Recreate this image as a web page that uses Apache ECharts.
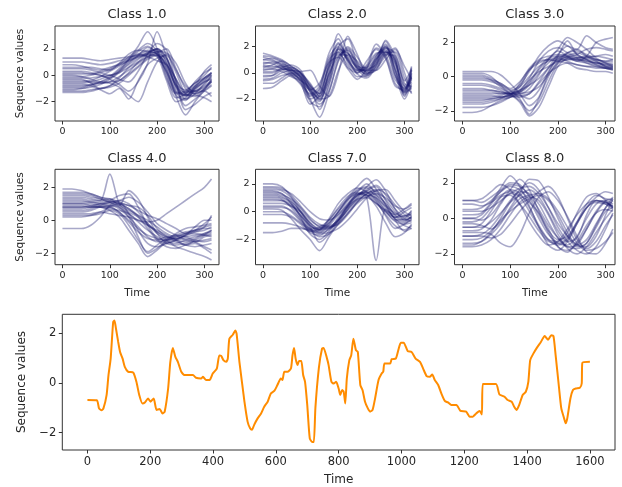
<!DOCTYPE html>
<html><head><meta charset="utf-8">
<script src="https://cdn.jsdelivr.net/npm/echarts@6/dist/echarts.min.js"></script>
<style>html,body{margin:0;padding:0;background:#fff}#c{width:622px;height:487px}</style>
</head><body><div id="c"></div>
<script>
// ---- data ----
const T = [0,20,40,60,80,100,120,140,160,180,200,220,240,260,280,300,315];
const classNames = ['Class 1.0','Class 2.0','Class 3.0','Class 4.0','Class 7.0','Class 8.0'];
const smallXTicks = [0,100,200,300];
const smallYTicks = [-2,0,2];
const bigXTicks = [0,200,400,600,800,1000,1200,1400,1600];
const bigYTicks = [-2,0,2];

const class1 = [
[-0.5,-0.5,-0.5,-0.4,-0.1,0.3,0.7,1.1,1.5,1.8,1.6,0.2,-1.3,-1.2,-0.6,-0.2,0.1],
[0.2,0.2,0.2,0.1,0.3,0.5,0.9,1.2,1.6,1.9,1.9,0.9,-1.0,-1.6,-0.9,-0.3,0.0],
[-1.0,-1.0,-1.0,-0.9,-0.7,-0.3,0.2,0.8,1.3,1.6,1.8,0.5,-1.5,-1.9,-1.0,-0.5,-0.3],
[1.3,1.3,1.3,1.2,1.1,1.2,1.3,1.4,1.5,1.6,1.4,0.3,-1.2,-1.5,-1.0,-0.4,0.2],
[-0.3,-0.3,-0.3,-0.6,-1.0,-0.8,-0.2,0.6,1.2,1.7,2.0,1.3,-0.4,-1.8,-1.4,-0.6,-0.2],
[0.5,0.5,0.5,0.4,0.2,0.0,0.3,0.9,1.5,2.1,1.7,0.0,-1.7,-1.4,-0.5,0.2,0.5],
[-1.3,-1.3,-1.3,-1.2,-1.0,-0.8,-0.4,0.1,0.7,1.3,1.6,1.2,-0.6,-2.3,-1.8,-1.2,-0.8],
[0.0,0.0,-0.1,-0.3,-0.5,-0.2,0.4,1.0,1.4,1.5,1.5,0.8,-0.8,-1.3,-1.2,-0.7,0.0],
[-0.7,-0.7,-0.7,-0.8,-1.1,-1.4,-1.0,-1.8,-0.4,0.8,1.3,1.5,0.2,-1.4,-1.6,-1.0,-0.5],
[0.8,0.8,0.7,0.5,0.4,0.6,0.8,1.1,1.4,1.7,2.0,1.0,-0.7,-1.1,-0.6,0.0,0.6],
[-0.2,-0.2,-0.2,-0.2,-0.1,0.0,-0.3,-0.5,0.3,1.6,2.4,1.9,-0.5,-2.6,-2.2,-1.6,-1.3],
[-1.1,-1.1,-1.0,-0.8,-0.5,-0.1,0.5,1.2,1.8,2.2,1.5,-0.4,-2.0,-1.7,-0.9,-0.2,0.2],
[0.3,0.3,0.3,0.2,0.0,-0.3,-0.7,-1.2,-0.5,0.9,3.3,1.4,-0.3,-1.2,-1.2,-0.8,-0.4],
[-0.6,-0.6,-0.6,-0.5,-0.3,0.0,0.2,0.6,1.0,1.4,1.7,2.0,0.5,-1.0,-1.4,-1.1,-0.7],
[0.6,0.6,0.6,0.6,0.5,0.4,0.9,1.6,1.9,1.8,1.6,0.6,-1.3,-1.8,-1.1,-0.5,-0.1],
[-0.9,-0.9,-0.9,-0.7,-0.5,-0.6,-0.9,-1.5,-2.0,-0.5,1.0,1.6,0.4,-0.8,-1.2,-0.9,-0.5],
[-0.1,-0.1,-0.1,0.0,0.2,0.4,0.8,1.4,1.9,2.4,1.8,0.3,-1.6,-3.0,-2.0,-1.1,-0.4],
[1.0,1.0,1.0,0.9,0.8,0.9,1.1,1.3,1.6,1.4,1.1,0.8,-0.3,-1.4,-0.8,0.3,0.8],
[-0.4,-0.4,-0.4,-0.5,-0.6,-0.5,-0.4,0.2,1.0,1.6,2.0,1.3,-0.9,-1.5,-1.3,-1.2,-1.6],
[-1.2,-1.2,-1.2,-1.1,-1.0,-0.9,-0.6,0.0,0.6,1.2,1.5,0.8,-0.8,-1.5,-1.5,-1.7,-2.0],
[0.1,0.1,0.1,0.1,0.0,-0.2,0.3,1.2,2.2,3.3,2.0,-0.2,-1.4,-1.3,-0.8,-0.2,0.2],
[-0.8,-0.8,-0.8,-0.7,-0.6,-0.5,-0.1,0.4,0.9,1.4,1.8,1.7,0.9,-0.6,-1.4,-1.0,-0.3]
];
const class2 = [
[0.5,0.4,0.6,0.1,-0.6,-1.8,-1.3,1.0,1.6,0.4,0.0,0.9,1.8,1.1,-1.0,-1.3,0.0],
[1.0,1.1,0.8,0.2,-0.3,-1.2,-2.0,-0.5,1.8,1.0,0.2,0.2,1.3,2.0,0.2,-1.6,-0.5],
[0.0,0.0,0.3,0.2,-0.2,-1.0,-1.6,0.8,2.3,1.2,0.4,0.1,0.8,1.9,1.5,-0.8,-1.0],
[-0.8,-0.8,-0.4,0.0,-0.1,-1.4,-2.4,-1.4,0.9,1.9,0.8,0.0,0.5,1.6,1.1,-1.0,-1.5],
[1.5,1.3,1.0,0.5,0.0,-0.8,-1.8,0.0,1.8,1.5,0.3,-0.3,0.9,2.1,0.4,-1.8,-0.2],
[0.3,0.3,0.5,0.3,-0.4,-2.2,-2.6,-0.8,1.2,1.8,0.5,-0.1,0.4,1.5,1.6,-0.4,-1.2],
[0.7,0.8,0.5,-0.1,-0.8,-1.6,-1.0,1.5,2.6,0.8,0.1,0.4,1.4,1.8,-0.2,-1.5,0.4],
[-0.2,-0.2,0.2,0.4,0.0,-1.0,-2.0,-1.8,0.2,1.4,0.9,0.2,0.2,1.0,1.8,0.5,-0.5],
[1.2,1.0,0.6,0.0,-0.5,-1.3,-0.8,0.8,1.2,0.3,-0.5,0.3,1.9,1.4,-0.5,-1.2,0.2],
[-1.2,-1.1,-0.6,-0.2,-0.5,-2.0,-3.4,-1.5,1.0,2.0,1.2,0.3,0.6,1.9,1.0,-1.5,-1.2],
[0.4,0.6,0.9,0.5,0.0,-1.5,-2.2,0.2,3.0,1.6,0.3,0.2,1.0,2.4,0.8,-1.3,-0.3],
[0.8,0.7,0.3,-0.2,-0.9,-2.0,-1.5,0.4,1.5,0.6,-0.3,-0.2,1.2,2.2,0.0,-2.0,-0.8],
[-0.5,-0.4,0.0,0.2,0.0,-0.9,-1.8,-0.2,1.4,1.3,0.5,0.4,1.1,1.7,0.7,-1.0,0.5],
[0.2,0.3,0.1,-0.3,-0.6,-1.2,-2.8,-1.0,2.0,2.6,0.7,-0.2,0.3,1.3,1.9,0.0,-1.6],
[1.0,0.9,0.7,0.4,-0.2,-1.7,-1.2,1.2,2.0,0.9,0.2,0.6,2.2,1.2,-0.8,-1.4,-0.1],
[-0.6,-0.5,-0.2,-0.1,-0.3,-1.3,-2.1,-0.5,1.6,1.5,0.4,-0.1,0.7,1.6,0.9,-1.1,-0.7],
[0.6,0.5,0.4,0.2,0.1,0.2,-1.0,-1.8,0.0,2.8,1.4,0.0,0.2,1.4,1.3,-0.6,0.3],
[0.1,0.1,0.4,0.6,0.2,-1.1,-1.6,0.5,1.9,1.1,-0.1,-0.4,0.6,2.5,1.2,-1.7,-1.0],
[1.3,1.2,0.9,0.3,-0.4,-1.4,-1.9,-0.1,1.3,1.7,0.6,0.1,1.0,2.0,0.3,-1.4,-0.4],
[-0.3,-0.2,0.3,0.1,-0.7,-2.4,-1.7,0.6,2.2,1.0,0.0,0.5,1.5,1.6,-0.2,-1.2,0.2]
];
const class3 = [
[-1.0,-1.0,-1.0,-1.0,-1.0,-0.9,-0.6,0.0,0.6,0.9,1.0,1.1,1.0,0.9,0.8,0.7,0.6],
[0.2,0.2,0.2,0.0,-0.5,-0.9,-0.9,-0.5,0.2,0.8,1.2,1.3,1.1,0.9,0.8,0.7,0.7],
[-1.6,-1.6,-1.6,-1.5,-1.3,-1.0,-0.8,-0.5,-0.1,0.5,1.0,1.4,1.5,1.3,1.0,0.8,0.7],
[-0.4,-0.4,-0.4,-0.5,-0.7,-1.0,-1.1,-1.3,-0.8,0.3,1.1,1.2,1.0,1.0,0.9,0.6,0.5],
[-1.3,-1.3,-1.3,-1.3,-1.2,-1.1,-0.4,0.5,1.0,1.2,1.3,1.2,1.1,1.1,1.0,0.9,0.9],
[0.0,0.0,0.0,-0.2,-0.6,-1.0,-1.4,-2.0,-1.5,-0.3,0.8,1.4,1.6,1.2,0.9,0.6,0.5],
[-0.7,-0.7,-0.7,-0.8,-0.9,-1.0,-0.8,-0.1,0.9,1.5,1.7,1.4,1.2,1.0,0.8,0.8,0.8],
[-2.1,-2.1,-2.0,-1.7,-1.4,-1.2,-1.0,-0.9,-0.6,0.1,0.8,1.0,1.1,1.2,1.2,1.1,1.0],
[-1.1,-1.1,-1.1,-1.1,-1.2,-1.1,-1.5,-2.3,-1.8,-0.6,0.6,1.1,1.3,1.6,1.7,1.6,1.5],
[-0.2,-0.2,-0.2,-0.3,-0.5,-0.8,-0.5,0.3,1.2,1.8,2.1,1.8,1.6,2.4,2.0,1.7,1.6],
[-1.5,-1.5,-1.5,-1.4,-1.3,-1.2,-1.1,-1.0,-0.4,0.2,0.6,0.8,0.7,0.6,0.5,0.5,0.4],
[-0.9,-0.9,-0.9,-0.9,-1.0,-1.0,-0.6,0.4,0.9,1.0,0.9,0.8,0.5,0.4,0.3,0.3,0.2],
[0.3,0.3,0.3,0.3,0.1,-0.4,-1.0,-1.7,-1.2,0.2,1.2,2.1,1.3,1.0,0.7,0.5,0.4],
[-0.5,-0.5,-0.5,-0.6,-0.8,-1.1,-1.2,-1.0,-0.3,0.5,1.3,1.8,1.3,1.1,1.2,1.3,1.2],
[-1.8,-1.8,-1.8,-1.7,-1.5,-1.2,-0.9,-0.3,0.5,1.1,1.2,1.1,0.9,0.8,0.7,0.6,0.6],
[-1.2,-1.2,-1.2,-1.2,-1.1,-1.0,-1.0,-0.7,0.1,1.0,1.5,1.2,0.9,1.2,2.0,2.2,2.3],
[-0.1,-0.1,-0.1,-0.2,-0.4,-0.8,-1.3,-2.2,-1.3,0.0,0.9,1.0,1.0,0.8,0.6,0.5,0.4],
[-0.8,-0.8,-0.8,-0.8,-0.9,-1.0,-0.9,-0.4,0.4,1.0,1.6,2.3,2.0,1.6,1.1,0.8,0.6],
[-1.4,-1.4,-1.4,-1.3,-1.2,-1.1,-0.8,-0.2,0.3,0.6,0.9,1.2,1.4,1.2,1.0,0.9,1.0],
[0.1,0.1,0.1,-0.1,-0.4,-0.7,-0.3,0.4,0.8,1.0,1.1,0.9,0.7,0.6,0.6,0.5,0.5]
];
const class4 = [
[1.0,1.0,1.0,1.0,0.9,0.8,0.5,0.0,-0.5,-0.9,-1.1,-1.2,-1.1,-1.0,-0.9,-0.8,-0.7],
[1.5,1.5,1.5,1.4,1.3,1.1,0.8,0.4,-0.1,-0.6,-1.0,-1.3,-1.4,-1.2,-1.0,-0.9,-1.0],
[0.5,0.5,0.5,0.6,0.8,0.9,0.7,0.2,-0.4,-1.0,-1.3,-1.2,-0.9,-0.7,-0.6,-0.5,-0.5],
[1.9,1.9,1.8,1.6,1.4,1.2,1.0,0.7,0.3,-0.2,-0.7,-1.1,-1.3,-1.5,-1.6,-1.5,-1.4],
[0.8,0.8,0.8,0.9,1.0,1.0,0.9,0.6,0.3,0.0,-0.4,-0.8,-1.0,-0.8,-0.6,-0.2,0.2],
[-0.5,-0.5,-0.5,-0.3,0.2,0.9,1.1,0.4,-0.6,-1.4,-1.6,-1.4,-1.2,-1.1,-1.3,-1.6,-1.8],
[1.2,1.2,1.2,1.1,1.1,1.2,1.5,1.6,0.8,-0.3,-1.1,-1.4,-1.2,-0.9,-0.8,-0.9,-0.8],
[0.3,0.3,0.3,0.3,0.4,0.6,0.4,-0.3,-1.2,-1.9,-1.5,-1.1,-0.9,-1.0,-1.2,-1.3,-1.2],
[1.3,1.3,1.3,1.2,1.2,2.8,1.0,0.5,0.2,-0.3,-0.6,-0.9,-1.1,-0.9,-0.4,0.0,0.0],
[0.9,0.9,0.9,0.8,0.8,0.7,0.6,0.4,0.0,-0.1,0.0,0.4,0.8,1.2,1.6,2.0,2.5],
[0.6,0.6,0.6,0.7,0.9,1.1,1.2,1.0,0.5,-0.2,-0.8,-1.2,-1.6,-1.8,-2.0,-2.2,-2.4],
[1.7,1.7,1.7,1.6,1.4,1.3,1.1,0.9,0.8,0.3,-0.5,-1.0,-1.1,-0.9,-0.7,-0.6,-0.4],
[1.1,1.1,1.1,1.1,1.0,0.9,0.8,0.2,-1.0,-2.0,-1.7,-1.2,-0.8,-0.5,-0.4,-0.3,-0.2],
[0.4,0.4,0.4,0.4,0.5,0.4,0.3,0.2,0.0,-0.3,-0.7,-1.0,-1.2,-1.3,-1.1,-0.8,-0.6],
[1.4,1.4,1.4,1.3,1.2,1.3,0.9,1.8,1.3,0.2,-0.8,-1.4,-1.5,-1.4,-1.3,-1.2,-1.1],
[0.7,0.7,0.7,0.8,1.0,1.1,1.0,0.7,0.2,-0.5,-1.2,-1.6,-1.7,-1.5,-1.4,-1.7,-2.0],
[1.0,1.0,1.0,0.9,0.8,0.6,0.2,-0.6,-1.4,-2.2,-1.8,-1.3,-1.0,-0.8,-0.6,-0.4,-0.3],
[0.2,0.2,0.2,0.3,0.5,0.8,1.0,0.9,0.6,0.3,0.1,-0.2,-0.5,-0.8,-0.7,-0.4,0.3],
[1.6,1.6,1.6,1.5,1.3,1.1,1.2,1.4,1.1,0.5,-0.2,-0.6,-0.9,-1.2,-1.3,-1.0,-0.9],
[0.8,0.8,0.8,0.8,0.8,0.8,0.5,-0.1,-0.7,-1.1,-1.2,-1.0,-1.2,-1.5,-1.2,-0.9,-0.6]
];
const class7 = [
[1.0,1.0,0.9,0.3,-0.5,-1.2,-1.1,-0.6,0.2,0.9,1.3,1.2,0.6,0.0,-0.4,-0.3,-0.2],
[1.5,1.5,1.3,0.6,-0.3,-1.0,-1.3,-0.8,0.0,0.8,1.5,1.7,1.0,0.1,-0.6,-0.5,-0.1],
[0.4,0.4,0.4,0.0,-0.7,-1.4,-1.5,-1.0,-0.2,0.6,1.2,1.5,1.2,0.6,-0.2,-0.6,-0.4],
[2.0,2.0,1.8,1.1,0.2,-0.6,-1.0,-1.0,-0.6,0.3,1.1,1.4,0.8,-0.3,-1.2,-0.9,-0.5],
[-0.2,-0.2,-0.2,-0.4,-0.9,-1.5,-1.7,-1.2,-0.6,0.1,0.8,1.3,1.5,0.9,0.0,-0.5,-0.7],
[1.2,1.2,1.1,0.7,0.0,-0.8,-1.3,-1.2,-0.5,0.4,1.4,2.0,1.2,0.3,-0.4,0.0,0.3],
[0.8,0.8,0.8,0.5,-0.2,-1.1,-2.2,-1.6,-0.6,0.5,1.3,1.0,-3.5,0.2,-0.5,-0.8,-0.6],
[-1.5,-1.5,-1.4,-1.2,-1.2,-1.3,-1.2,-0.8,0.0,0.9,1.6,1.8,1.4,0.5,-0.5,-1.0,-1.2],
[1.7,1.7,1.6,1.3,0.7,0.0,-0.5,-0.6,-0.2,0.5,1.2,1.6,1.9,1.2,0.2,-0.3,0.0],
[0.0,0.0,0.0,-0.3,-0.8,-1.3,-1.4,-0.9,0.0,1.0,1.8,2.4,1.6,0.5,-0.6,-1.4,-1.2],
[1.1,1.1,1.0,0.6,-0.4,-1.6,-2.0,-1.4,-0.4,0.4,0.9,1.0,0.6,0.1,-0.2,0.2,0.6],
[0.6,0.6,0.6,0.4,0.0,-0.8,-1.2,-1.1,-0.9,-0.2,0.7,1.3,1.6,1.3,0.5,-0.2,-0.5],
[1.4,1.4,1.3,0.8,0.0,-0.9,-1.5,-1.3,-0.6,0.4,1.2,1.4,0.9,0.0,-0.7,-0.9,-0.8],
[0.2,0.2,0.1,-0.5,-1.3,-2.0,-2.8,-1.8,-0.8,0.2,0.9,1.5,1.8,0.8,-0.3,-0.7,-0.3],
[1.8,1.8,1.7,1.2,0.4,-0.4,-0.9,-1.1,-0.8,-0.1,0.6,1.1,1.3,1.0,0.4,0.2,0.5],
[-0.8,-0.8,-0.8,-0.9,-1.1,-1.4,-1.3,-0.5,0.6,1.3,1.7,1.4,0.7,-0.2,-1.0,-1.3,-1.0],
[0.9,0.9,0.8,0.4,-0.3,-1.2,-1.6,-1.5,-1.2,-0.6,0.2,1.0,1.5,1.6,0.8,0.0,-0.3],
[1.3,1.3,1.2,0.9,0.3,-0.5,-1.1,-1.2,-0.7,0.2,1.0,1.8,2.3,1.5,0.2,-0.6,-0.4],
[0.3,0.3,0.3,0.1,-0.6,-1.3,-1.8,-1.6,-0.9,-0.1,0.7,1.2,1.0,0.4,-0.1,-0.4,0.1],
[1.6,1.6,1.5,1.0,0.0,-1.0,-1.3,-0.6,0.3,1.1,1.4,1.2,0.4,-0.8,-1.8,-1.5,-0.9]
];
const class8 = [
[-0.5,-0.5,-0.3,0.4,1.2,1.6,1.4,0.6,-0.4,-1.2,-1.5,-1.2,-0.3,0.6,0.9,0.8,0.7],
[0.0,0.0,0.2,0.8,1.5,1.8,1.6,1.0,0.0,-0.9,-1.4,-1.5,-1.0,0.0,0.8,1.0,0.8],
[-1.0,-1.0,-0.9,-0.5,0.2,1.0,1.5,1.4,0.8,-0.2,-1.1,-1.6,-1.5,-0.6,0.4,1.0,1.1],
[1.0,1.0,1.1,1.5,1.9,1.6,0.8,-0.2,-1.0,-1.5,-1.3,-0.6,0.2,0.8,1.0,0.9,0.6],
[-1.5,-1.5,-1.3,-0.8,0.0,0.9,1.6,2.0,1.6,0.6,-0.5,-1.3,-1.8,-2.0,-1.6,-0.6,0.3],
[0.5,0.5,0.6,1.0,1.5,1.9,1.8,1.3,0.5,-0.4,-1.1,-1.6,-1.7,-1.4,-0.4,0.6,1.0],
[-0.3,-0.3,-0.4,-0.6,-0.2,0.6,1.4,2.2,2.1,1.2,0.0,-1.0,-1.6,-1.4,-0.5,0.4,0.6],
[-1.2,-1.2,-1.1,-0.7,-0.1,0.4,0.8,1.1,1.3,1.0,0.2,-0.8,-1.5,-1.2,-0.3,0.6,1.2],
[0.2,0.2,0.3,0.9,1.7,2.4,1.8,0.7,-0.5,-1.5,-1.8,-1.3,-0.3,0.6,1.2,1.5,1.4],
[-0.8,-0.8,-0.8,-0.9,-1.4,-1.6,-0.9,0.3,1.2,1.5,1.0,0.1,-1.0,-1.9,-2.0,-1.4,-0.6],
[0.8,0.8,0.7,0.9,1.3,1.5,1.3,0.9,0.3,-0.6,-1.6,-1.9,-1.3,-0.4,0.3,0.5,0.4],
[-0.5,-0.5,-0.5,-0.2,0.3,0.9,1.3,1.6,1.2,0.3,-0.7,-1.3,-1.1,0.2,1.0,0.9,0.7],
[-1.4,-1.4,-1.3,-0.9,-0.3,0.5,1.1,1.3,1.4,1.1,0.4,-0.5,-1.4,-1.8,-1.7,-1.3,-0.8],
[0.0,0.0,-0.1,0.2,0.9,1.6,2.2,1.6,0.4,-0.8,-1.6,-1.8,-1.4,-0.6,0.3,0.9,0.6],
[-0.2,-0.2,0.0,0.6,1.2,1.3,0.8,0.1,-0.7,-1.3,-1.4,-1.1,-0.2,0.8,1.3,1.1,1.0],
[-1.0,-1.0,-1.0,-1.1,-0.9,-0.3,0.4,1.0,1.5,1.8,1.2,0.0,-1.2,-1.7,-1.3,-0.4,0.2],
[1.0,1.0,0.9,1.2,1.6,2.0,1.9,1.2,0.2,-0.7,-1.2,-1.0,-0.2,0.6,1.0,0.8,0.5],
[-0.7,-0.7,-0.6,-0.1,0.8,1.4,1.2,0.4,-0.5,-1.2,-1.3,-0.8,0.3,1.2,1.4,1.0,0.6],
[-1.6,-1.6,-1.5,-1.2,-0.6,0.2,0.9,1.2,1.0,0.2,-0.9,-1.7,-2.0,-1.6,-0.8,0.0,0.5],
[0.4,0.4,0.4,0.6,1.0,1.4,1.7,1.8,1.4,0.6,-0.3,-1.0,-1.5,-1.6,-1.0,0.2,1.1]
];

const sampleT = [0,30,37,45,51,61,67,74,82,86,91,98,104,112,119,130,146,156,165,175,183,193,201,211,220,230,239,246,257,264,272,280,288,299,309,336,346,362,368,378,389,399,412,420,426,433,442,447,452,463,471,475,484,492,500,510,518,524,531,542,553,563,574,584,595,605,616,621,627,637,648,653,658,663,669,674,681,687,693,700,708,716,721,726,737,747,752,763,768,777,784,792,800,805,811,816,821,826,834,840,847,855,861,869,876,884,893,900,908,916,927,937,942,946,964,969,982,990,998,1007,1020,1032,1045,1059,1069,1080,1090,1098,1106,1117,1127,1138,1148,1159,1175,1188,1206,1217,1227,1238,1249,1256,1259,1301,1312,1328,1338,1351,1359,1367,1375,1386,1396,1404,1410,1420,1431,1444,1456,1467,1477,1484,1491,1502,1509,1518,1523,1528,1538,1546,1555,1568,1574,1576,1600];
const sampleV = [-0.69,-0.7,-1.03,-1.1,-1.03,-0.5,0.3,0.97,2.44,2.5,2.17,1.64,1.24,0.97,0.64,0.44,0.41,0.04,-0.49,-0.83,-0.79,-0.63,-0.76,-0.63,-1.09,-1.05,-1.23,-1.16,-0.23,0.84,1.4,1.04,0.84,0.44,0.31,0.31,0.2,0.17,0.24,0.11,0.11,0.37,0.57,1.1,1.08,0.91,0.84,0.97,1.77,1.93,2.1,1.97,0.84,0.04,-0.76,-1.56,-1.83,-1.89,-1.69,-1.43,-1.23,-0.96,-0.76,-0.43,-0.33,-0.09,0.17,0.11,0.44,0.44,0.57,1.1,1.4,0.97,0.71,0.87,0.87,0.31,0.04,-0.89,-2.23,-2.38,-2.38,-1.0,0.6,1.37,1.4,0.97,0.71,0.04,-0.03,0.04,-0.23,-0.49,-0.29,-0.36,-0.83,0.17,0.91,1.1,1.77,1.31,1.24,-0.09,-0.29,-0.76,-1.03,-1.16,-1.09,-0.63,0.11,0.37,0.44,0.77,0.77,0.95,0.97,1.31,1.61,1.61,1.27,1.24,0.97,0.84,0.57,0.27,0.24,0.33,0.11,-0.09,-0.43,-0.73,-0.79,-0.89,-0.89,-1.13,-1.16,-1.36,-1.36,-1.23,-1.13,-1.27,-0.05,-0.05,-0.47,-0.56,-0.69,-0.76,-0.96,-1.09,-0.89,-0.49,-0.36,0.04,0.91,1.17,1.4,1.64,1.88,1.73,1.91,1.88,1.1,-0.23,-1.03,-1.43,-1.63,-1.43,-0.63,-0.29,-0.23,-0.2,-0.03,0.8,0.84];

// ---- layout ----
const FONT = 'DejaVu Sans';
const TXT = '#262626';
const panels = [
  {data: class1, g:{left:55,   top:26,    width:164,   height:95},   x:[-15.75,330.75], y:[-3.46,3.73]},
  {data: class2, g:{left:255.5,top:26,    width:163.5, height:95},   x:[-15.75,330.75], y:[-3.69,3.59]},
  {data: class3, g:{left:454.5,top:26,    width:160.5, height:95},   x:[-16.7,319.5],   y:[-2.6,2.97]},
  {data: class4, g:{left:55,   top:169.3, width:164,   height:95.4}, x:[-15.75,330.75], y:[-2.69,3.09]},
  {data: class7, g:{left:255.5,top:169.3, width:163.5, height:95.4}, x:[-15.75,330.75], y:[-3.81,3.05]},
  {data: class8, g:{left:454.5,top:169.3, width:160.5, height:95.4}, x:[-16.7,319.5],   y:[-2.61,2.76]}
];
const fmt = v => (v < 0 ? '\u2212' + Math.abs(v) : String(v));

const grid = [], xAxis = [], yAxis = [], series = [], graphic = [];
function addAxes(gi, xr, yr, xt, yt, fs, xm, ym) {
  xAxis.push({type:'value', gridIndex:gi, min:xr[0], max:xr[1], position:'bottom',
    axisLine:{show:false, onZero:false}, splitLine:{show:false},
    axisTick:{show:true, customValues:xt, length:3.5, lineStyle:{color:'#333', width:1}},
    axisLabel:{customValues:xt, fontSize:fs, fontFamily:FONT, color:TXT, margin:xm, formatter:fmt}});
  yAxis.push({type:'value', gridIndex:gi, min:yr[0], max:yr[1], position:'left',
    axisLine:{show:false, onZero:false}, splitLine:{show:false},
    axisTick:{show:true, customValues:yt, length:3.5, lineStyle:{color:'#333', width:1}},
    axisLabel:{customValues:yt, fontSize:fs, fontFamily:FONT, color:TXT, margin:ym, formatter:fmt}});
}
panels.forEach((p, gi) => {
  grid.push(Object.assign({show:true, borderColor:'#333', borderWidth:1, backgroundColor:'transparent', containLabel:false}, p.g));
  addAxes(gi, p.x, p.y, smallXTicks, smallYTicks, 9.5, 6, 6);
  p.data.forEach(line => {
    series.push({type:'line', xAxisIndex:gi, yAxisIndex:gi, data:T.map((t,i)=>[t,line[i]]),
      symbol:'none', smooth:0.3, silent:true,
      lineStyle:{color:'rgba(25,25,112,0.38)', width:1.6}});
  });
  graphic.push({type:'text', x:p.g.left + p.g.width/2, y:p.g.top - 11,
    style:{text:classNames[gi], font:'13px "DejaVu Sans"', fill:TXT, align:'center', verticalAlign:'middle'}});
});
// bottom panel
grid.push({show:true, borderColor:'#333', borderWidth:1, backgroundColor:'transparent', left:62.3, top:314.3, width:552.7, height:135.7});
addAxes(6, [-80,1680], [-2.70,2.75], bigXTicks, bigYTicks, 11.5, 6, 6);
series.push({type:'line', xAxisIndex:6, yAxisIndex:6, data:sampleT.map((t,i)=>[t,sampleV[i]]),
  symbol:'none', smooth:0.2, silent:true, lineStyle:{color:'#ff8c00', width:2}});

// axis titles
[[20.7,73.5],[20.7,217]].forEach(([x,y]) => graphic.push({type:'text', x, y, rotation:Math.PI/2,
  style:{text:'Sequence values', font:'10.5px "DejaVu Sans"', fill:TXT, align:'center', verticalAlign:'middle'}}));
[137,337.3,534.8].forEach(x => graphic.push({type:'text', x, y:293,
  style:{text:'Time', font:'10.5px "DejaVu Sans"', fill:TXT, align:'center', verticalAlign:'middle'}}));
graphic.push({type:'text', x:21.5, y:382, rotation:Math.PI/2,
  style:{text:'Sequence values', font:'12px "DejaVu Sans"', fill:TXT, align:'center', verticalAlign:'middle'}});
graphic.push({type:'text', x:338.7, y:480,
  style:{text:'Time', font:'12px "DejaVu Sans"', fill:TXT, align:'center', verticalAlign:'middle'}});

const chart = echarts.init(document.getElementById('c'), null, {renderer:'canvas'});
chart.setOption({animation:false, backgroundColor:'#fff', grid, xAxis, yAxis, series, graphic});
</script></body></html>
